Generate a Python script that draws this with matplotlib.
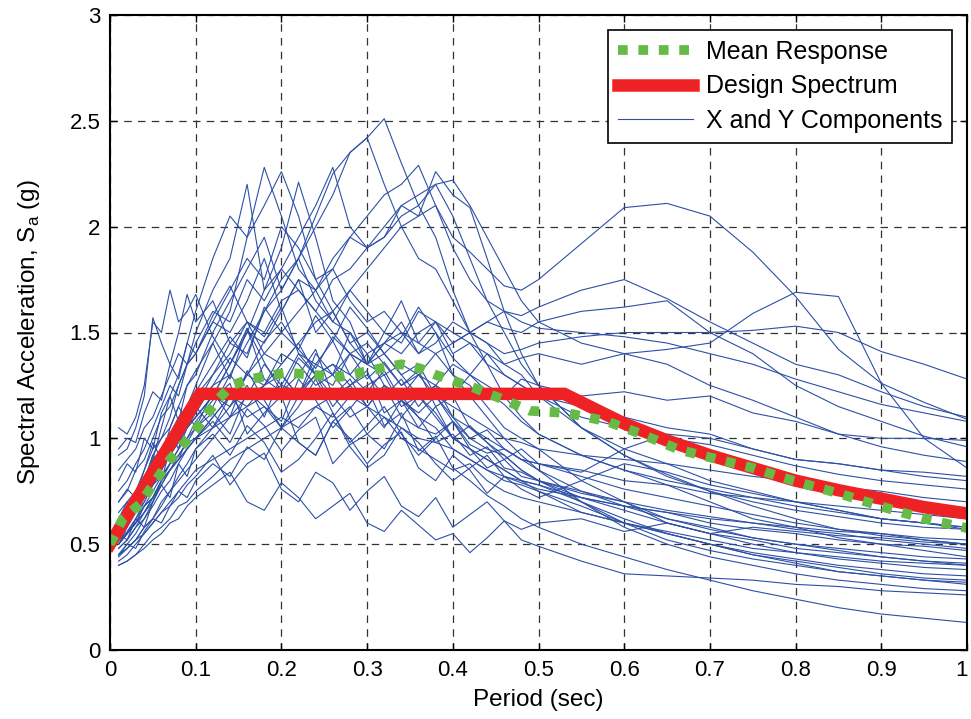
import matplotlib
matplotlib.use("Agg")
import matplotlib.pyplot as plt
import matplotlib.transforms as mtransforms
from matplotlib.lines import Line2D

plt.rcParams['font.family'] = ['Liberation Sans', 'DejaVu Sans']
plt.rcParams['mathtext.fontset'] = 'custom'
plt.rcParams['mathtext.rm'] = 'Liberation Sans'

# Period grid shared by the record spectra (sec)
periods = [0.01, 0.02, 0.03, 0.04, 0.05, 0.06, 0.07, 0.08, 0.09, 0.10,
           0.12, 0.14, 0.16, 0.18, 0.20, 0.22, 0.24, 0.26, 0.28, 0.30,
           0.32, 0.34, 0.36, 0.38, 0.40, 0.42, 0.44, 0.46, 0.48, 0.50,
           0.55, 0.60, 0.65, 0.70, 0.75, 0.80, 0.85, 0.90, 0.95, 1.00]

# X and Y component spectra (g)
comp_01 = [0.55,0.60,0.66,0.72,0.80,0.85,0.95,1.02,1.10,1.15, 1.30,1.45,1.40,1.60,1.75,1.85,2.05,2.25,2.35,2.42, 2.51,2.30,2.10,1.95,1.70,1.50,1.35,1.20,1.10,1.02, 0.92,0.85,0.78,0.70,0.62,0.58,0.53,0.50,0.47,0.44]
comp_02 = [0.50,0.58,0.70,0.78,0.90,1.05,1.20,1.30,1.45,1.60, 1.85,2.05,1.95,2.28,2.05,1.80,1.70,1.55,1.50,1.40, 1.25,1.20,1.10,1.05,0.95,0.90,0.85,0.80,0.78,0.75, 0.65,0.60,0.55,0.50,0.45,0.42,0.39,0.36,0.34,0.33]
comp_03 = [0.45,0.50,0.55,0.62,0.70,0.80,0.95,1.05,1.15,1.25, 1.45,1.60,1.95,2.10,2.26,2.05,1.75,1.60,1.45,1.50, 1.40,1.30,1.35,1.20,1.10,1.00,0.95,0.92,0.85,0.80, 0.75,0.70,0.62,0.58,0.53,0.50,0.47,0.44,0.42,0.40]
comp_04 = [0.60,0.65,0.72,0.80,0.92,1.00,1.10,1.25,1.35,1.50, 1.70,1.85,2.20,1.70,1.90,2.21,1.95,1.65,1.55,1.35, 1.30,1.15,1.20,1.10,1.00,0.95,0.90,0.85,0.80,0.75, 0.68,0.60,0.55,0.50,0.45,0.41,0.37,0.35,0.33,0.31]
comp_05 = [0.48,0.52,0.58,0.65,0.72,0.78,0.85,0.90,1.00,1.05, 1.15,1.30,1.45,1.60,1.70,1.85,2.00,2.15,2.35,2.42, 2.20,2.00,1.85,1.80,1.65,1.50,1.45,1.35,1.30,1.20, 1.05,0.95,0.88,0.80,0.75,0.70,0.66,0.62,0.60,0.57]
comp_06 = [0.50,0.55,0.62,0.70,0.78,0.85,0.92,1.00,1.05,1.10, 1.20,1.35,1.50,1.70,1.80,1.95,2.10,2.28,2.00,1.90, 1.95,2.10,2.15,2.20,2.05,1.85,1.65,1.50,1.35,1.25, 1.05,0.92,0.83,0.75,0.68,0.62,0.57,0.54,0.52,0.50]
comp_07 = [0.45,0.48,0.52,0.58,0.62,0.68,0.75,0.80,0.85,0.90, 1.00,1.10,1.20,1.25,1.35,1.45,1.55,1.60,1.70,1.80, 1.90,2.00,2.05,2.10,1.95,1.88,1.80,1.72,1.70,1.75, 1.92,2.09,2.11,2.05,1.88,1.67,1.42,1.26,1.17,1.09]
comp_08 = [0.55,0.60,0.65,0.72,0.78,0.82,0.88,0.92,0.98,1.00, 1.05,1.10,1.15,1.20,1.25,1.22,1.30,1.35,1.30,1.40, 1.45,1.50,1.40,1.45,1.55,1.50,1.45,1.40,1.42,1.45, 1.48,1.50,1.50,1.50,1.51,1.53,1.50,1.41,1.35,1.28]
comp_09 = [0.42,0.45,0.50,0.55,0.60,0.65,0.70,0.75,0.80,0.85, 0.90,0.95,1.00,1.05,1.10,1.05,1.15,1.20,1.10,1.15, 1.25,1.20,1.30,1.25,1.35,1.30,1.40,1.35,1.38,1.40, 1.35,1.40,1.42,1.45,1.59,1.69,1.67,1.26,1.00,0.86]
comp_10 = [0.52,0.55,0.60,0.68,0.72,0.80,0.85,0.90,0.95,1.00, 1.10,1.20,1.15,1.25,1.30,1.20,1.35,1.30,1.40,1.35, 1.45,1.40,1.50,1.55,1.45,1.50,1.55,1.60,1.58,1.62, 1.70,1.75,1.66,1.55,1.45,1.35,1.30,1.22,1.15,1.10]
comp_11 = [0.60,0.65,0.70,0.78,0.85,0.92,1.00,1.05,1.10,1.15, 1.25,1.30,1.20,1.35,1.25,1.40,1.30,1.35,1.25,1.30, 1.20,1.28,1.15,1.25,1.20,1.30,1.25,1.20,1.28,1.25, 1.20,1.22,1.18,1.20,1.12,1.08,1.02,1.00,1.00,0.99]
comp_12 = [0.40,0.42,0.45,0.50,0.55,0.58,0.62,0.68,0.70,0.75, 0.82,0.90,0.95,1.00,1.05,1.10,1.15,1.10,1.20,1.25, 1.30,1.35,1.30,1.40,1.45,1.50,1.55,1.52,1.50,1.55, 1.60,1.62,1.65,1.50,1.40,1.25,1.15,1.08,1.01,0.96]
comp_13 = [0.62,0.68,0.75,0.82,0.90,0.95,1.02,1.10,1.15,1.20, 1.30,1.40,1.55,1.50,1.65,1.70,1.60,1.75,1.80,1.90, 1.95,2.05,2.10,2.20,2.22,2.10,1.95,1.80,1.65,1.55, 1.45,1.40,1.35,1.25,1.18,1.10,1.02,0.96,0.92,0.89]
comp_14 = [0.70,0.75,0.85,0.90,1.00,1.10,1.15,1.25,1.35,1.40, 1.55,1.70,1.85,1.75,2.00,1.90,1.75,1.80,1.65,1.55, 1.60,1.50,1.45,1.55,1.40,1.45,1.35,1.30,1.25,1.20, 1.15,1.10,1.05,1.02,0.95,0.90,0.88,0.85,0.82,0.80]
comp_15 = [0.58,0.62,0.68,0.75,0.82,0.90,0.95,1.00,1.10,1.15, 1.05,1.20,1.10,1.15,1.05,1.20,1.30,1.25,1.40,1.35, 1.50,1.45,1.60,1.55,1.50,1.45,1.40,1.30,1.25,1.20, 1.10,1.05,1.00,0.97,0.92,0.87,0.83,0.80,0.78,0.76]
comp_16 = [0.85,0.90,0.95,1.05,1.10,1.20,1.30,1.40,1.35,1.45, 1.60,1.55,1.75,1.65,1.80,1.70,1.60,1.50,1.40,1.45, 1.35,1.25,1.30,1.20,1.15,1.10,1.05,1.00,0.98,0.95, 0.92,0.90,0.88,0.85,0.82,0.80,0.77,0.75,0.72,0.70]
comp_17 = [1.05,1.02,1.10,1.25,1.55,1.50,1.70,1.55,1.60,1.68, 1.48,1.35,1.52,1.28,1.22,1.38,1.30,1.15,1.25,1.32, 1.12,1.18,1.05,1.02,1.08,0.97,0.93,0.95,0.90,0.88, 0.85,0.80,0.78,0.74,0.72,0.70,0.68,0.66,0.64,0.62]
comp_18 = [0.92,0.95,1.05,1.20,1.57,1.45,1.35,1.50,1.68,1.55, 1.65,1.45,1.55,1.40,1.35,1.45,1.30,1.20,1.25,1.15, 1.10,1.05,1.00,0.98,0.95,0.90,0.85,0.82,0.80,0.78, 0.72,0.68,0.65,0.62,0.60,0.58,0.56,0.55,0.53,0.52]
comp_19 = [0.45,0.48,0.52,0.55,0.60,0.65,0.68,0.72,0.78,0.82, 0.92,0.78,0.88,0.93,0.76,0.70,0.84,0.79,0.66,0.75, 0.82,0.68,0.63,0.72,0.58,0.64,0.70,0.61,0.57,0.60, 0.62,0.56,0.60,0.55,0.58,0.56,0.54,0.53,0.51,0.50]
comp_20 = [0.50,0.55,0.60,0.65,0.72,0.80,0.88,0.95,1.00,1.08, 1.18,1.26,1.02,1.12,1.20,0.98,0.92,1.08,1.00,0.88, 0.97,1.03,0.86,0.80,0.92,0.85,0.74,0.82,0.79,0.76, 0.72,0.68,0.65,0.60,0.57,0.55,0.52,0.50,0.49,0.47]
comp_21 = [0.55,0.58,0.65,0.70,0.78,0.85,0.92,0.98,1.05,1.12, 1.25,1.38,1.30,1.46,1.55,1.42,1.33,1.48,1.40,1.28, 1.36,1.25,1.32,1.15,1.20,1.05,1.00,0.95,0.90,0.85, 0.75,0.68,0.62,0.57,0.53,0.50,0.48,0.46,0.44,0.43]
comp_22 = [0.40,0.42,0.45,0.48,0.52,0.55,0.60,0.62,0.68,0.72, 0.78,0.84,0.70,0.66,0.79,0.72,0.62,0.68,0.74,0.60, 0.56,0.66,0.59,0.52,0.55,0.46,0.53,0.61,0.52,0.49, 0.42,0.36,0.35,0.34,0.33,0.31,0.30,0.28,0.27,0.26]
comp_23 = [0.48,0.52,0.58,0.62,0.68,0.75,0.80,0.88,0.95,1.00, 1.08,0.98,1.14,1.06,0.94,1.04,1.10,0.88,0.97,1.02, 1.10,1.00,0.95,0.90,0.85,0.88,0.80,0.75,0.72,0.70, 0.65,0.60,0.56,0.52,0.48,0.46,0.44,0.42,0.41,0.40]
comp_24 = [0.65,0.70,0.75,0.85,0.95,1.00,1.05,1.15,1.25,1.30, 1.50,1.65,1.80,1.95,1.70,1.85,1.65,1.55,1.70,1.60, 1.50,1.65,1.45,1.40,1.30,1.25,1.15,1.05,1.00,0.95, 0.80,0.70,0.60,0.55,0.50,0.46,0.43,0.41,0.39,0.38]
comp_25 = [0.52,0.56,0.62,0.68,0.75,0.82,0.88,0.95,1.05,1.10, 1.20,1.15,1.30,1.25,1.40,1.35,1.25,1.30,1.20,1.15, 1.25,1.10,1.05,1.15,1.00,0.95,0.90,0.85,0.80,0.78, 0.70,0.62,0.55,0.50,0.46,0.43,0.40,0.38,0.36,0.35]
comp_26 = [0.75,0.80,0.88,0.95,1.05,1.15,1.25,1.20,1.35,1.40, 1.55,1.50,1.65,1.85,1.60,1.75,1.50,1.60,1.45,1.35, 1.40,1.30,1.20,1.25,1.10,1.05,0.98,0.92,0.85,0.80, 0.70,0.60,0.52,0.47,0.43,0.40,0.37,0.35,0.33,0.32]
comp_27 = [0.44,0.48,0.52,0.58,0.62,0.70,0.75,0.82,0.88,0.95, 1.05,1.15,1.25,1.10,1.30,1.20,1.40,1.30,1.50,1.35, 1.45,1.55,1.40,1.50,1.30,1.20,1.10,1.00,0.92,0.85, 0.70,0.58,0.50,0.44,0.40,0.36,0.33,0.31,0.29,0.28]
comp_28 = [0.50,0.55,0.60,0.68,0.72,0.80,0.85,0.92,0.98,1.05, 1.12,1.02,1.22,1.15,1.08,1.28,1.18,1.05,1.14,1.24, 1.06,1.12,0.94,1.01,0.86,0.80,0.73,0.68,0.62,0.58, 0.50,0.44,0.38,0.33,0.28,0.24,0.20,0.17,0.15,0.13]
comp_29 = [0.50,0.55,0.60,0.65,0.70,0.78,0.85,0.90,0.95,1.00, 1.10,1.20,1.30,1.40,1.50,1.60,1.70,1.80,1.95,2.05, 2.15,2.20,2.29,2.10,1.90,1.75,1.65,1.60,1.55,1.52, 1.50,1.48,1.45,1.40,1.35,1.28,1.22,1.16,1.12,1.08]
comp_30 = [0.55,0.60,0.65,0.72,0.80,0.88,0.95,1.00,1.05,1.10, 1.20,1.35,1.50,1.45,1.60,1.75,1.70,1.85,1.95,1.90, 2.00,2.10,2.05,2.26,2.15,2.09,1.85,1.60,1.40,1.25, 1.05,0.92,0.82,0.75,0.70,0.66,0.63,0.60,0.58,0.57]
comp_31 = [0.62,0.70,0.66,0.80,0.92,0.86,1.02,0.95,1.12,1.05, 1.22,1.10,1.32,1.18,1.05,1.15,1.28,1.12,0.98,1.06, 1.15,1.02,0.92,1.00,1.08,0.95,0.86,0.90,0.82,0.80, 0.74,0.70,0.66,0.63,0.60,0.57,0.55,0.52,0.50,0.48]
comp_32 = [0.80,0.88,0.84,1.00,0.95,1.12,1.20,1.08,1.25,1.32, 1.45,1.28,1.52,1.36,1.22,1.30,1.42,1.20,1.28,1.15, 1.05,1.18,1.10,0.98,1.02,0.92,0.96,0.86,0.84,0.80, 0.72,0.66,0.60,0.55,0.52,0.48,0.46,0.44,0.42,0.41]
comp_33 = [0.55,0.52,0.62,0.58,0.70,0.78,0.72,0.88,0.82,0.95, 1.02,0.92,1.06,0.98,0.84,0.90,1.00,1.12,0.96,0.86, 0.92,1.05,0.98,0.88,0.80,0.86,0.92,0.82,0.76,0.72, 0.80,0.88,0.84,0.78,0.74,0.70,0.66,0.62,0.60,0.58]
comp_34 = [0.95,1.00,0.98,1.12,1.22,1.18,1.35,1.28,1.45,1.40, 1.58,1.72,1.55,1.48,1.62,1.40,1.35,1.46,1.30,1.22, 1.32,1.18,1.12,1.20,1.08,1.00,1.04,0.95,0.90,0.88, 0.82,0.76,0.72,0.68,0.64,0.60,0.57,0.55,0.52,0.50]
comp_35 = [0.45,0.50,0.48,0.56,0.62,0.60,0.68,0.75,0.72,0.80, 0.88,0.82,0.96,0.90,1.05,0.98,0.92,1.08,1.15,1.02, 0.95,1.10,1.20,1.12,1.00,1.06,0.98,0.90,0.95,0.88, 0.84,0.95,1.02,1.00,0.95,0.90,0.88,0.85,0.84,0.82]
comp_36 = [0.70,0.76,0.72,0.85,0.98,0.90,1.05,1.15,1.08,1.22, 1.35,1.48,1.38,1.62,1.50,1.42,1.58,1.46,1.62,1.52, 1.40,1.48,1.62,1.50,1.38,1.30,1.22,1.16,1.08,1.02, 0.92,0.85,0.80,0.76,0.72,0.68,0.65,0.62,0.60,0.58]

components = [comp_01, comp_02, comp_03, comp_04, comp_05, comp_06, comp_07, comp_08,
              comp_09, comp_10, comp_11, comp_12, comp_13, comp_14, comp_15, comp_16,
              comp_17, comp_18, comp_19, comp_20, comp_21, comp_22, comp_23, comp_24,
              comp_25, comp_26, comp_27, comp_28, comp_29, comp_30, comp_31, comp_32,
              comp_33, comp_34, comp_35, comp_36]

# Design spectrum
design_T = [0.0, 0.105, 0.53, 0.55, 0.60, 0.65, 0.70, 0.75, 0.80, 0.85, 0.90, 0.95, 1.00]
design_Sa = [0.50, 1.21, 1.21, 1.17, 1.07, 0.99, 0.92, 0.86, 0.80, 0.755, 0.715, 0.675, 0.645]

# Mean response
mean_T = [0.0, 0.015, 0.035, 0.07, 0.10, 0.125, 0.142, 0.163, 0.206, 0.268, 0.315, 0.34,
          0.362, 0.38, 0.424, 0.467, 0.49, 0.533, 0.58, 0.62, 0.665, 0.70, 0.75, 0.797,
          0.85, 0.907, 0.95, 1.0]
mean_Sa = [0.50, 0.62, 0.69, 0.90, 1.04, 1.18, 1.25, 1.28, 1.31, 1.29, 1.33, 1.35,
           1.33, 1.30, 1.24, 1.17, 1.13, 1.12, 1.08, 1.02, 0.945, 0.91, 0.86, 0.80,
           0.74, 0.67, 0.62, 0.576]

xticks = [0, 0.1, 0.2, 0.3, 0.4, 0.5, 0.6, 0.7, 0.8, 0.9, 1]
xticklabels = ['0', '0.1', '0.2', '0.3', '0.4', '0.5', '0.6', '0.7', '0.8', '0.9', '1']
yticks = [0, 0.5, 1, 1.5, 2, 2.5, 3]
yticklabels = ['0', '0.5', '1', '1.5', '2', '2.5', '3']

blue = '#2d50a6'
red = '#ee2224'
green = '#66bb46'

fig = plt.figure(figsize=(9.71, 7.19), dpi=100)
ax = fig.add_axes([110/971, 69/719, 857/971, 635/719])

for c in components:
    ax.plot(periods, c, color=blue, lw=0.8, zorder=2)
ax.plot(design_T, design_Sa, color=red, lw=9, solid_joinstyle='miter', zorder=3)
ax.plot(mean_T, mean_Sa, color=green, lw=7, linestyle=(0, (1, 1.1)), zorder=4)

ax.set_xlim(0, 1)
ax.set_ylim(0, 3)
ax.set_xticks(xticks)
ax.set_xticklabels(xticklabels)
ax.set_yticks(yticks)
ax.set_yticklabels(yticklabels)
ax.tick_params(direction='in', top=True, right=True, length=5, width=1,
               labelsize=16, pad=7)
ax.grid(True, color='#333333', linestyle=(0, (6, 5)), lw=0.9)
ax.set_axisbelow(True)
for s in ax.spines.values():
    s.set_linewidth(1.5)
    s.set_zorder(6)

# keep the last x tick label inside the canvas
last = ax.get_xticklabels()[-1]
last.set_transform(last.get_transform() +
                   mtransforms.ScaledTranslation(-4/72, 0, fig.dpi_scale_trans))

ax.set_xlabel('Period (sec)', fontsize=17.5, labelpad=6)
ax.set_ylabel(r'Spectral Acceleration, S$_\mathregular{a}$ (g)', fontsize=17.5, labelpad=20)

handles = [Line2D([], [], color=green, lw=7, linestyle=(0, (1, 1.1))),
           Line2D([], [], color=red, lw=9),
           Line2D([], [], color=blue, lw=0.8)]
labels = ['Mean Response', 'Design Spectrum', 'X and Y Components']
leg = ax.legend(handles, labels, loc='upper right', fontsize=18, handlelength=3.0,
                fancybox=False, framealpha=1, edgecolor='black',
                borderaxespad=0.6, labelspacing=0.42, handletextpad=0.5,
                borderpad=0.4)
leg.get_frame().set_linewidth(1.2)
leg.set_zorder(10)

fig.savefig('out.png', dpi=100)
